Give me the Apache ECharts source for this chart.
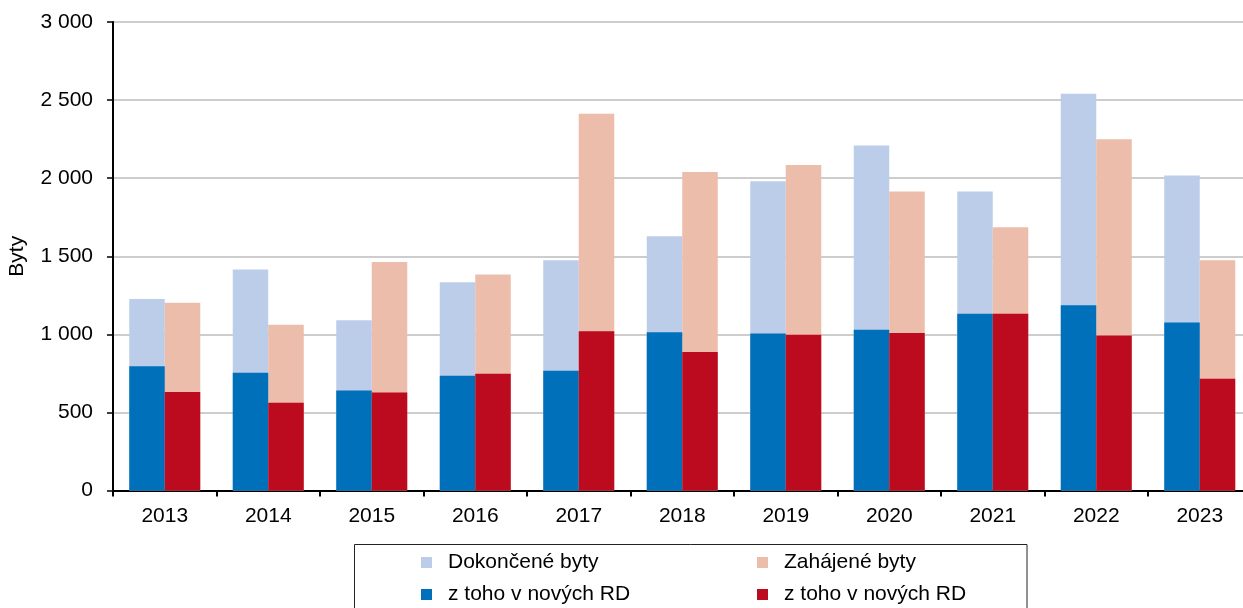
<!DOCTYPE html>
<html>
<head>
<meta charset="utf-8">
<script src="https://cdn.jsdelivr.net/npm/echarts@6/dist/echarts.min.js"></script>
<style>
  html, body { margin: 0; padding: 0; background: #fff; }
  #chart { width: 1243px; height: 608px; }
</style>
</head>
<body>
<div id="chart"></div>
<script>
// Roky
const years = ['2013', '2014', '2015', '2016', '2017', '2018', '2019', '2020', '2021', '2022', '2023'];
// Dokončené byty celkem a z toho v nových rodinných domech
const dokoncene = [1226, 1415, 1090, 1333, 1474, 1628, 1981, 2209, 1915, 2540, 2017];
const dokonceneRD = [795, 754, 641, 735, 767, 1013, 1006, 1030, 1132, 1186, 1075];
// Zahájené byty celkem a z toho v nových rodinných domech
const zahajene = [1203, 1062, 1463, 1383, 2412, 2040, 2085, 1915, 1686, 2250, 1474];
const zahajeneRD = [630, 562, 628, 748, 1019, 887, 998, 1008, 1132, 992, 716];
// Popisky osy y
const yTicks = [0, 500, 1000, 1500, 2000, 2500, 3000];

const legendNames = {
  dok: 'Dokončené byty',
  zah: 'Zahájené byty',
  dokRD: 'z toho v nových RD',
  zahRD: 'z toho v nových RD'
};

const FONT = '"Liberation Sans", Arial, sans-serif';
const FS = 21;
const BAR_W = 35.5;

const fmtThousands = v => String(v).replace(/\B(?=(\d{3})+(?!\d))/g, ' ');

const chart = echarts.init(document.getElementById('chart'), null, { renderer: 'canvas' });

const legendCommon = {
  orient: 'vertical',
  top: 552,
  height: 80,
  padding: 0,
  itemWidth: 11,
  itemHeight: 11,
  itemGap: 11,
  icon: 'rect',
  selectedMode: false,
  formatter: n => legendNames[n],
  textStyle: { fontFamily: FONT, fontSize: FS, color: '#000', lineHeight: 21, padding: [0, 0, 0, 11] }
};

chart.setOption({
  animation: false,
  textStyle: { fontFamily: FONT },
  grid: { left: 113, top: 22, width: 1138.5, height: 468.5, containLabel: false, outerBoundsMode: 'none' },
  graphic: [{
    type: 'rect',
    shape: { x: 354.5, y: 544.5, width: 672.5, height: 80 },
    style: { fill: 'none', stroke: '#222', lineWidth: 1 },
    silent: true, z: 0
  }],
  legend: [
    Object.assign({}, legendCommon, { left: 421, data: ['dok', 'dokRD'] }),
    Object.assign({}, legendCommon, { left: 757, data: ['zah', 'zahRD'] })
  ],
  xAxis: [{
    type: 'category',
    data: years,
    axisLine: { lineStyle: { color: '#000', width: 2 } },
    axisTick: { show: true, length: 6, lineStyle: { color: '#000', width: 2 } },
    axisLabel: { fontFamily: FONT, fontSize: FS, color: '#000', margin: 15 },
    splitLine: { show: false }
  }, {
    type: 'category',
    data: years,
    show: false,
    position: 'bottom'
  }],
  yAxis: {
    type: 'value',
    min: 0, max: 3000, interval: 500,
    name: 'Byty',
    nameLocation: 'middle',
    nameGap: 85,
    nameTextStyle: { fontFamily: FONT, fontSize: FS, color: '#000' },
    axisLine: { show: true, lineStyle: { color: '#000', width: 2 } },
    axisTick: { show: true, length: 6, lineStyle: { color: '#000', width: 1.5 } },
    axisLabel: {
      fontFamily: FONT, fontSize: FS, color: '#000', margin: 20,
      formatter: v => yTicks.includes(v) ? fmtThousands(v) : ''
    },
    splitLine: { show: true, lineStyle: { color: '#bdbdbd', width: 1.5 } }
  },
  series: [
    { name: 'dok', type: 'bar', xAxisIndex: 0, data: dokoncene, barWidth: BAR_W, barGap: '0%',
      itemStyle: { color: '#bccdea' }, z: 2 },
    { name: 'zah', type: 'bar', xAxisIndex: 0, data: zahajene, barWidth: BAR_W, barGap: '0%',
      itemStyle: { color: '#ebbdaa' }, z: 2 },
    { name: 'dokRD', type: 'bar', xAxisIndex: 1, data: dokonceneRD, barWidth: BAR_W, barGap: '0%',
      itemStyle: { color: '#0070bb' }, z: 3 },
    { name: 'zahRD', type: 'bar', xAxisIndex: 1, data: zahajeneRD, barWidth: BAR_W, barGap: '0%',
      itemStyle: { color: '#bc0a1e' }, z: 3 }
  ]
});
</script>
</body>
</html>
